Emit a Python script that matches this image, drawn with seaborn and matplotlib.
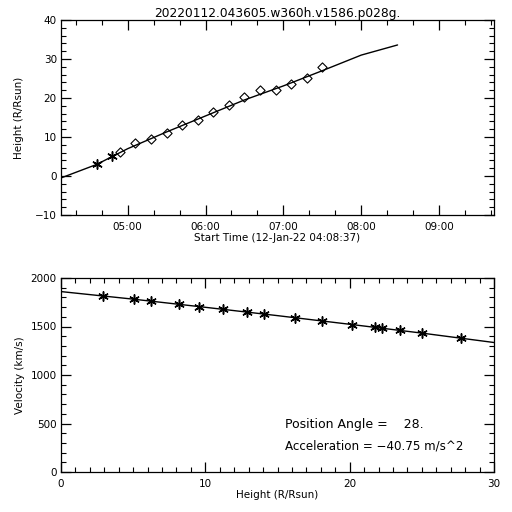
import matplotlib
matplotlib.use("Agg")
import matplotlib.pyplot as plt
import matplotlib.dates as mdates
from matplotlib.ticker import MultipleLocator
import numpy as np
import pandas as pd
import seaborn as sns

# ---------------------------------------------------------------------------
# Data
# ---------------------------------------------------------------------------
DAY = "2022-01-12"
START_TIME = "04:08:37"
END_TIME = "09:42:20"

obs_times = ["04:36", "04:48", "04:54", "05:06", "05:18", "05:30", "05:42", "05:54",
             "06:06", "06:18", "06:30", "06:42", "06:54", "07:06", "07:18", "07:30"]
obs_heights = [2.95, 5.05, 6.24, 8.35, 9.6, 11.15, 12.95, 14.3,
               16.3, 18.1, 20.25, 21.95, 22.1, 23.55, 25.1, 27.85]
obs_camera = ["C2", "C2"] + ["C3"] * 14

fit_times = ["04:08:37", "04:36", "05:00", "05:30", "06:00", "06:30",
             "07:00", "07:30", "08:00", "08:28"]
fit_heights = [-0.5, 2.95, 7.0, 11.3, 15.4, 19.5, 23.1, 27.0, 31.0, 33.6]

vel_heights = [2.89, 5.06, 6.22, 8.18, 9.58, 11.21, 12.91, 14.07,
               16.22, 18.11, 20.15, 21.76, 22.27, 23.49, 25.02, 27.70]
vel_values = [1815, 1780, 1762, 1730, 1705, 1677, 1648, 1627,
              1590, 1557, 1520, 1492, 1482, 1460, 1432, 1382]

vfit_heights = [0, 5, 10, 15, 20, 25, 30]
vfit_values = [1860, 1782, 1698, 1612, 1523, 1432, 1335]

TITLE = "20220112.043605.w360h.v1586.p028g."
POS_ANGLE = "28."
ACCEL = "\u221240.75"


def stamp(t):
    return pd.to_datetime(f"{DAY} {t}")


ht = pd.DataFrame({"time": [stamp(t) for t in obs_times],
                   "height": obs_heights, "camera": obs_camera})
ht_fit = pd.DataFrame({"time": [stamp(t) for t in fit_times], "height": fit_heights})
vh = pd.DataFrame({"height": vel_heights, "velocity": vel_values})
vh_fit = pd.DataFrame({"height": vfit_heights, "velocity": vfit_values})

# ---------------------------------------------------------------------------
# Style: IDL-like black on white, ticks inside on all sides
# ---------------------------------------------------------------------------
sns.set_style("ticks")
plt.rcParams.update({
    "font.family": ["DejaVu Sans"],
    "font.size": 7.5,
    "text.color": "black",
    "axes.labelcolor": "black",
    "xtick.color": "black",
    "ytick.color": "black",
    "axes.edgecolor": "black",
    "axes.linewidth": 0.9,
    "xtick.direction": "in",
    "ytick.direction": "in",
    "xtick.major.size": 7,
    "ytick.major.size": 7,
    "xtick.minor.size": 3.5,
    "ytick.minor.size": 3.5,
    "xtick.major.width": 0.9,
    "ytick.major.width": 0.9,
    "xtick.minor.width": 0.8,
    "ytick.minor.width": 0.8,
    "xtick.major.pad": 5,
    "ytick.major.pad": 3,
})

fig = plt.figure(figsize=(5.12, 5.12), dpi=100)
ax1 = fig.add_axes([61 / 512, 1 - 215 / 512, 433 / 512, 195 / 512])
ax2 = fig.add_axes([61 / 512, 1 - 472 / 512, 433 / 512, 194 / 512])

# --- height-time panel -----------------------------------------------------
sns.lineplot(data=ht_fit, x="time", y="height", color="black", linewidth=1.0, ax=ax1)
sns.scatterplot(data=ht[ht.camera == "C2"], x="time", y="height", marker=(6, 2, 0),
                s=45, color="black", edgecolor="black", linewidth=1.1, ax=ax1)
sns.scatterplot(data=ht[ht.camera == "C3"], x="time", y="height", marker="D",
                s=22, facecolor="white", edgecolor="black", linewidth=0.8, ax=ax1)

ax1.set_xlim(stamp(START_TIME), stamp(END_TIME))
ax1.set_ylim(-10, 40)
ax1.xaxis.set_major_locator(mdates.HourLocator())
ax1.xaxis.set_minor_locator(mdates.MinuteLocator(byminute=[20, 40]))
ax1.xaxis.set_major_formatter(mdates.DateFormatter("%H:%M"))
ax1.yaxis.set_major_locator(MultipleLocator(10))
ax1.yaxis.set_minor_locator(MultipleLocator(2))
ax1.set_xlabel(f"Start Time (12-Jan-22 {START_TIME})", labelpad=1)
ax1.set_ylabel("Height (R/Rsun)", labelpad=8)
ax1.set_title(TITLE, fontsize=8.8, pad=2)

# --- velocity-height panel -------------------------------------------------
sns.lineplot(data=vh_fit, x="height", y="velocity", color="black", linewidth=1.0, ax=ax2)
sns.scatterplot(data=vh, x="height", y="velocity", marker=(6, 2, 0),
                s=45, color="black", edgecolor="black", linewidth=1.1, ax=ax2)

ax2.set_xlim(0, 30)
ax2.set_ylim(0, 2000)
ax2.xaxis.set_major_locator(MultipleLocator(10))
ax2.xaxis.set_minor_locator(MultipleLocator(1))
ax2.yaxis.set_major_locator(MultipleLocator(500))
ax2.yaxis.set_minor_locator(MultipleLocator(100))
ax2.set_xlabel("Height (R/Rsun)", labelpad=1)
ax2.set_ylabel("Velocity (km/s)", labelpad=4)

ax2.text(15.5, 485, f"Position Angle =    {POS_ANGLE}", fontsize=9, va="center")
ax2.text(15.5, 268, f"Acceleration = {ACCEL} m/s^2", fontsize=8.6, va="center")

for ax in (ax1, ax2):
    ax.tick_params(which="both", top=True, right=True, bottom=True, left=True,
                   direction="in")
    for sp in ax.spines.values():
        sp.set_visible(True)
        sp.set_color("black")

fig.savefig("out.png", dpi=100, facecolor="white")
plt.close("all")
